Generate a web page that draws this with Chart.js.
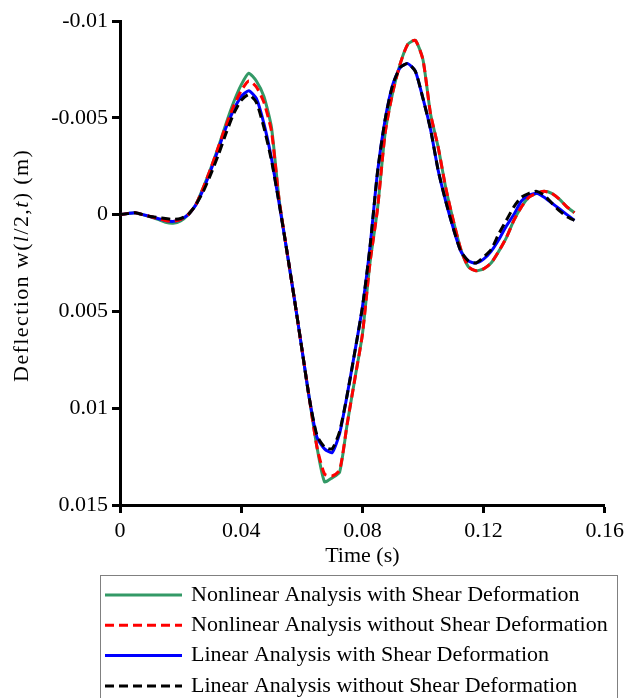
<!DOCTYPE html>
<html><head><meta charset="utf-8">
<script src="https://cdn.jsdelivr.net/npm/chart.js@4/dist/chart.umd.min.js"></script>
<style>html,body{margin:0;padding:0;background:#fff;}#wrap{width:629px;height:698px;}</style>
</head><body><div id="wrap"><canvas id="c" width="629" height="698"></canvas></div>
<script>
// ---- data (time in s, deflection in m) ----
const time = [0,0.0025,0.005,0.0075,0.01,0.0125,0.015,0.0175,0.02,0.0225,0.025,0.0275,0.03,0.0325,0.035,0.0375,0.04,0.0425,0.045,0.0475,0.05,0.0525,0.055,0.0575,0.06,0.0625,0.065,0.0675,0.07,0.0725,0.075,0.0775,0.08,0.0825,0.085,0.0875,0.09,0.0925,0.095,0.0975,0.1,0.1025,0.105,0.1075,0.11,0.1125,0.115,0.1175,0.12,0.1225,0.125,0.1275,0.13,0.1325,0.135,0.1375,0.14,0.1425,0.145,0.1475,0.15];
const nonlinearWithShear = [0,-0.00005,-0.0001,0,0.00012,0.00025,0.0004,0.00045,0.00033,0,-0.0005,-0.0014,-0.0024,-0.0035,-0.0047,-0.0058,-0.0067,-0.0073,-0.0069,-0.0061,-0.0045,-0.0008,0.0018,0.0043,0.0069,0.0095,0.012,0.0138,0.0136,0.0133,0.0108,0.0085,0.0062,0.0025,-0.0003,-0.0042,-0.0063,-0.0078,-0.0088,-0.009,-0.008,-0.0052,-0.0035,-0.0014,0.0003,0.0018,0.0027,0.0029,0.0028,0.0025,0.0019,0.0012,0.0003,-0.0004,-0.0009,-0.0011,-0.0012,-0.0011,-0.0008,-0.0004,-0.0001];
const nonlinearWithoutShear = [0,-0.00005,-0.0001,0,0.0001,0.0002,0.0003,0.00035,0.00025,0,-0.0005,-0.0014,-0.0024,-0.0035,-0.0046,-0.0056,-0.0064,-0.0069,-0.0066,-0.0058,-0.0043,-0.0008,0.0018,0.0043,0.0069,0.0095,0.012,0.0134,0.0135,0.0132,0.0108,0.0085,0.0062,0.0025,-0.0003,-0.0042,-0.0063,-0.0078,-0.0088,-0.009,-0.008,-0.0052,-0.0035,-0.0014,0.0003,0.0018,0.0027,0.0029,0.0028,0.0025,0.0019,0.0012,0.0003,-0.0004,-0.0009,-0.0011,-0.0012,-0.0011,-0.0008,-0.0004,-0.0001];
const linearWithShear = [0,-0.00005,-0.0001,0,0.0001,0.0002,0.0003,0.00035,0.00025,0,-0.0005,-0.0013,-0.0023,-0.0034,-0.0045,-0.0054,-0.0061,-0.0064,-0.006,-0.0047,-0.0029,-0.0006,0.0018,0.0043,0.0069,0.0095,0.0115,0.0121,0.0123,0.0113,0.0093,0.0071,0.0048,0.0017,-0.0022,-0.0049,-0.0067,-0.0076,-0.0078,-0.0074,-0.006,-0.0044,-0.0023,-0.0007,0.0007,0.0019,0.0024,0.0025,0.0023,0.0019,0.0013,0.0006,0,-0.0007,-0.001,-0.0011,-0.0009,-0.0006,-0.0003,0,0.0003];
const linearWithoutShear = [0,-0.00005,-0.0001,0,0.0001,0.00015,0.0002,0.00025,0.0002,0,-0.0005,-0.0012,-0.0021,-0.0031,-0.0042,-0.0052,-0.0059,-0.0062,-0.0058,-0.0045,-0.0028,-0.0006,0.0018,0.0043,0.0069,0.0095,0.0114,0.012,0.0121,0.0112,0.0093,0.0071,0.0048,0.0017,-0.0022,-0.0049,-0.0067,-0.0076,-0.0078,-0.0074,-0.006,-0.0044,-0.0023,-0.0007,0.0007,0.0019,0.0024,0.0025,0.0022,0.0018,0.001,0.0003,-0.0004,-0.0009,-0.0011,-0.0012,-0.001,-0.0006,-0.0002,0.0001,0.0003];
const seriesNames = ['Nonlinear Analysis with Shear Deformation','Nonlinear Analysis without Shear Deformation','Linear Analysis with Shear Deformation','Linear Analysis without Shear Deformation'];
const xTicks = [0,0.04,0.08,0.12,0.16];
const xTickLabels = ['0','0.04','0.08','0.12','0.16'];
const yTicks = [-0.01,-0.005,0,0.005,0.01,0.015];
const yTickLabels = ['-0.01','-0.005','0','0.005','0.01','0.015'];
const xTitle = 'Time (s)';
const yTitleParts = [['Deflection w(',false],['l',true],['/2,',false],['t',true],[') (m)',false]];

const FONT = "'Liberation Serif','Times New Roman',serif";
const colors = ['#339966','#ff0000','#0000ff','#000000'];
const dashes = [[],[9,5],[],[9,5]];
const seriesData = [nonlinearWithShear,nonlinearWithoutShear,linearWithShear,linearWithoutShear];
const drawOrder = [4,2,3,1];

const datasets = seriesData.map((arr,i)=>({
  label: seriesNames[i],
  data: time.map((t,j)=>({x:t,y:arr[j]})),
  borderColor: colors[i], backgroundColor: colors[i],
  borderWidth: 3, borderDash: dashes[i], pointRadius: 0, tension: 0.2,
  fill: false, order: drawOrder[i]
}));

const extras = {
  id:'extras',
  afterDraw(chart){
    const ctx = chart.ctx;
    const ca = chart.chartArea;
    ctx.save();
    // y axis title with italic parts, drawn char by char with slight spacing
    const size = 22, spacing = 1.4;
    const cx = 22, cy = 266;
    const chars = [];
    yTitleParts.forEach(([s,it])=>{ for (const ch of s) chars.push([ch,it]); });
    let total = 0;
    const widths = chars.map(([ch,it])=>{ctx.font=(it?'italic ':'')+size+'px '+FONT; const w=ctx.measureText(ch).width; return w;});
    total = widths.reduce((a,b)=>a+b,0) + spacing*(chars.length-1);
    ctx.translate(cx,cy); ctx.rotate(-Math.PI/2);
    ctx.fillStyle='#000'; ctx.textBaseline='middle'; ctx.textAlign='left';
    let x = -total/2;
    chars.forEach(([ch,it],i)=>{ctx.font=(it?'italic ':'')+size+'px '+FONT; ctx.fillText(ch,x,0); x+=widths[i]+spacing;});
    ctx.restore();
    // legend
    ctx.save();
    ctx.strokeStyle='#808080'; ctx.lineWidth=1;
    ctx.strokeRect(100.5,575.5,517,130);
    chart.data.datasets.forEach((ds,i)=>{
      const y = 595 + i*30.3;
      ctx.beginPath(); ctx.setLineDash(ds.borderDash||[]); ctx.strokeStyle=ds.borderColor; ctx.lineWidth=3;
      ctx.moveTo(105,y); ctx.lineTo(182,y); ctx.stroke();
      ctx.setLineDash([]);
      ctx.fillStyle='#000'; ctx.font='22px '+FONT; ctx.textBaseline='middle'; ctx.textAlign='left';
      ctx.fillText(ds.label,191,y);
    });
    ctx.restore();
  }
};

new Chart(document.getElementById('c'),{
  type:'line',
  data:{datasets},
  options:{
    responsive:false, animation:false, devicePixelRatio:1,
    layout:{padding:{top:21,right:24,left:0,bottom:0}},
    plugins:{legend:{display:false},tooltip:{enabled:false}},
    scales:{
      x:{type:'linear',min:0,max:0.16,
        afterBuildTicks:s=>{s.ticks=xTicks.map(v=>({value:v}));},
        afterFit:s=>{s.height=193;},
        ticks:{callback:(v,i)=>xTickLabels[i],font:{family:FONT,size:22},color:'#000',padding:5,maxRotation:0,autoSkip:false},
        grid:{display:true,drawOnChartArea:false,drawTicks:true,tickLength:8,tickWidth:3,tickColor:'#000'},
        border:{display:true,color:'#000',width:3},
        title:{display:true,text:xTitle,font:{family:FONT,size:22},color:'#000',padding:{top:0,bottom:129}}
      },
      y:{type:'linear',reverse:true,min:-0.01,max:0.015,
        afterBuildTicks:s=>{s.ticks=yTicks.map(v=>({value:v}));},
        afterFit:s=>{s.width=120;},
        ticks:{callback:(v,i)=>yTickLabels[i],font:{family:FONT,size:22},color:'#000',padding:4,autoSkip:false},
        grid:{display:true,drawOnChartArea:false,drawTicks:true,tickLength:8,tickWidth:3,tickColor:'#000'},
        border:{display:true,color:'#000',width:3}
      }
    }
  },
  plugins:[extras]
});
</script></body></html>
